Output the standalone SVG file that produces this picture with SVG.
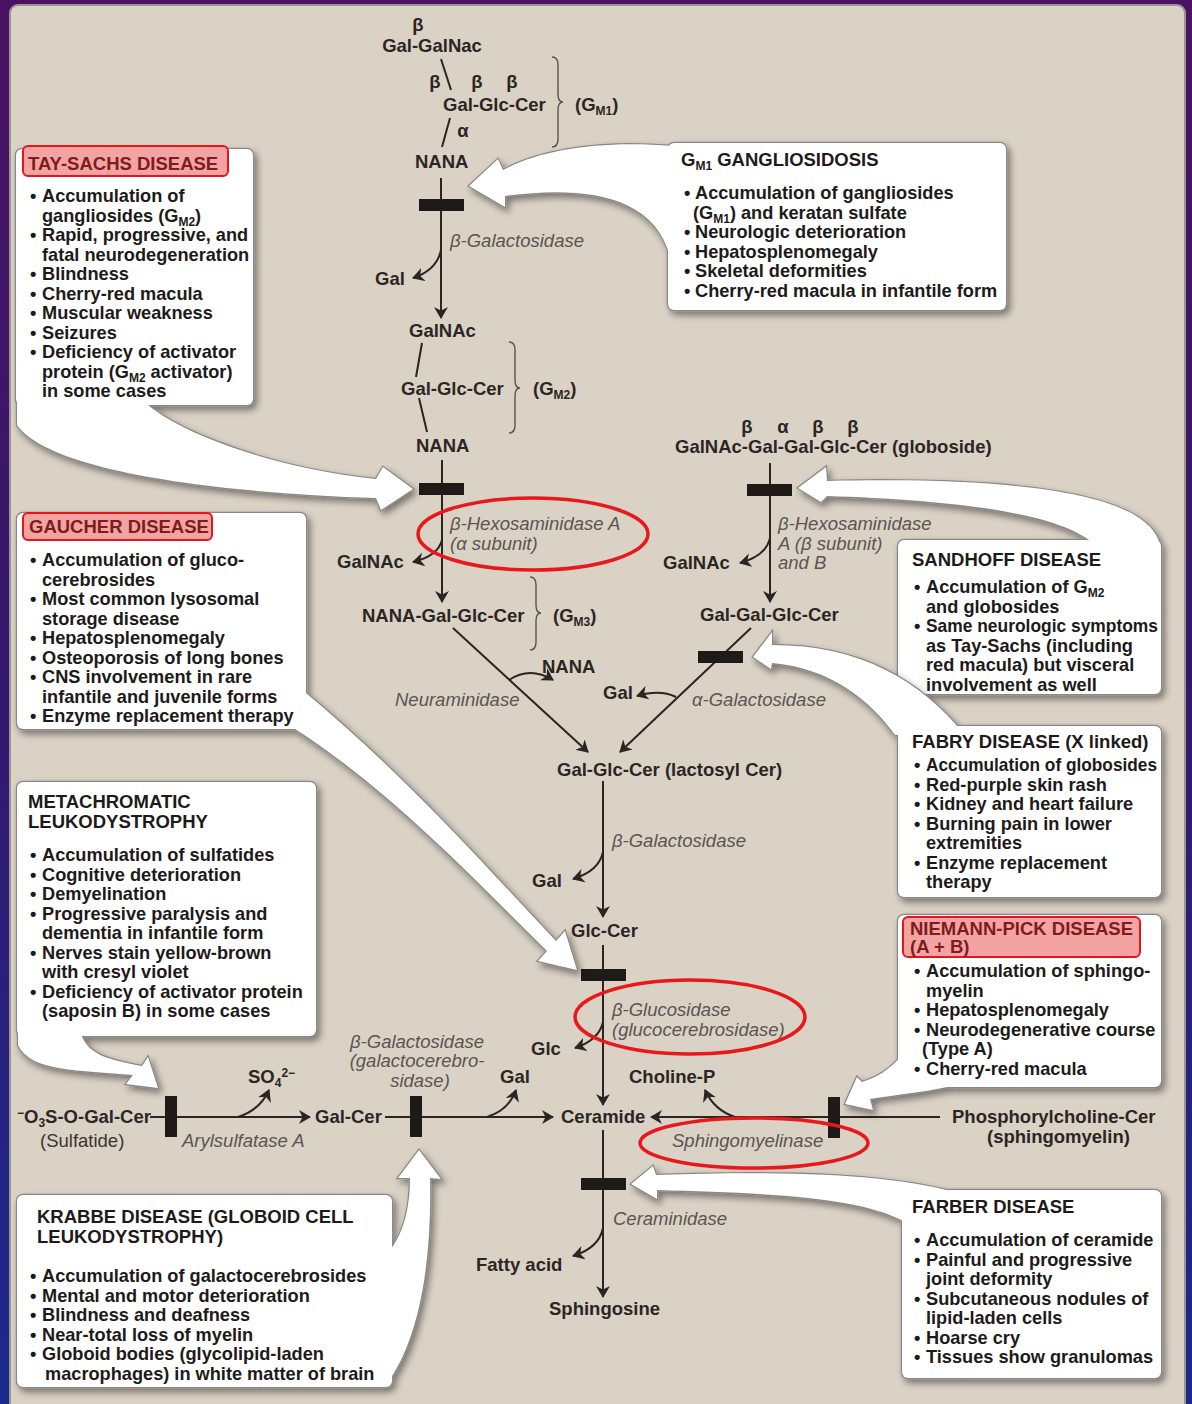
<svg xmlns="http://www.w3.org/2000/svg" xmlns:xlink="http://www.w3.org/1999/xlink" width="1192" height="1404" viewBox="0 0 1192 1404">
<defs>
<linearGradient id="bg" x1="0" y1="0" x2="0" y2="1">
<stop offset="0" stop-color="#4a1262"/>
<stop offset="0.5" stop-color="#33186e"/>
<stop offset="1" stop-color="#1b2a8e"/>
</linearGradient>
<filter id="sh" x="-10%" y="-10%" width="125%" height="125%">
<feDropShadow dx="3" dy="4" stdDeviation="3.5" flood-color="#000" flood-opacity="0.45"/>
</filter>
<marker id="ah" viewBox="0 0 12 14" refX="11" refY="7" markerWidth="12" markerHeight="14" markerUnits="userSpaceOnUse" orient="auto">
<path d="M0,0 L12,7 L0,14 L3.5,7 Z" fill="#2a2522"/>
</marker>
<style>
.lb{font-family:"Liberation Sans",Arial,sans-serif;font-size:18.5px;font-weight:bold;fill:#2b2623}
.rg{font-family:"Liberation Sans",Arial,sans-serif;font-size:18.5px;fill:#3a3431}
.en{font-family:"Liberation Sans",Arial,sans-serif;font-size:18.5px;font-style:italic;fill:#5b5451}
.bx{font-family:"Liberation Sans",Arial,sans-serif;font-size:18.2px;font-weight:bold;fill:#1e1a19}
.ti{font-family:"Liberation Sans",Arial,sans-serif;font-size:18.5px;font-weight:bold;fill:#1e1a19}
.rt{font-family:"Liberation Sans",Arial,sans-serif;font-size:18.5px;font-weight:bold;fill:#7e1c1c}
.sb{font-size:12px}
.out{fill:#fff;stroke:#8a8885;stroke-width:2.5}
.fil{fill:#fff;stroke:none}
.tbox{fill:#f4a3a3;stroke:#e8141c;stroke-width:2}
.ln{fill:none;stroke:#2a2522;stroke-width:2}
.blk{fill:#1e1a18}
.br{fill:none;stroke:#5a5350;stroke-width:1.4}
.red{fill:none;stroke:#e8191c;stroke-width:3.5}
</style>
<rect id="ts-box" x="16" y="149" width="237" height="256" rx="6"/>
<path id="ts-arr" d="M 17,395 L 140,395 C 150,418 250,466 376,479 L 383,467 L 413,489 L 381,510 L 376,498 C 220,493 50,472 17,425 Z"/>
<rect id="gm1-box" x="668" y="143" width="338" height="167" rx="6"/>
<path id="gm1-arr" d="M 672,146 C 600,140 540,150 503,170 L 498,159 L 469,186 L 505,207 L 505,196 C 580,186 660,192 672,266 Z"/>
<rect id="gau-box" x="17" y="513" width="289" height="216" rx="6"/>
<path id="gau-arr" d="M 300,688 C 400,770 480,860 556,941 L 565,931 L 577,970 L 538,961 L 547,951 C 470,875 390,790 295,729 Z"/>
<rect id="san-box" x="898" y="540" width="263" height="154" rx="6"/>
<path id="san-arr" d="M 827,481 L 826,467 L 798,488 L 821,502 L 827,496 C 950,500 1060,512 1095,545 L 1160,545 C 1150,500 1050,476 827,481 Z"/>
<rect id="fab-box" x="898" y="726" width="263" height="171" rx="6"/>
<path id="fab-arr" d="M 772,645 L 772,632 L 753,657 L 771,669 L 772,663 C 830,668 870,700 895,735 L 965,735 C 920,680 860,645 772,645 Z"/>
<rect id="met-box" x="17" y="782" width="299" height="254" rx="6"/>
<path id="met-arr" d="M 18,1030 L 80,1030 C 85,1055 110,1060 142,1066 L 148,1057 L 158,1088 L 126,1084 L 133,1075 C 80,1070 30,1072 18,1045 Z"/>
<rect id="np-box" x="898" y="915" width="263" height="172" rx="6"/>
<path id="np-arr" d="M 902,1055 C 890,1070 875,1078 862,1082 L 857,1077 L 845,1104 L 873,1110 L 870,1099 C 900,1094 930,1092 965,1083 Z"/>
<rect id="kr-box" x="17" y="1195" width="375" height="192" rx="6"/>
<path id="kr-arr" d="M 386,1385 C 420,1340 432,1260 430,1178 L 441,1179 L 419,1150 L 398,1178 L 410,1178 C 410,1215 400,1240 386,1255 Z"/>
<rect id="far-box" x="902" y="1190" width="259" height="188" rx="6"/>
<path id="far-arr" d="M 656,1175 L 653,1166 L 631,1184 L 657,1199 L 657,1190 C 760,1193 860,1196 905,1222 L 965,1195 C 900,1175 800,1170 656,1175 Z"/>
</defs>

<rect x="0" y="0" width="1192" height="1404" fill="url(#bg)"/>
<rect x="10" y="5" width="1175" height="1420" rx="8" fill="#dbd2c6" stroke="#9a958f" stroke-width="2"/>

<g id="connectors">
<line class="ln" x1="441" y1="178" x2="441" y2="318" marker-end="url(#ah)"/>
<path class="ln" d="M 441,250 Q 437,270 413,278" marker-end="url(#ah)"/>
<line class="ln" x1="442" y1="460" x2="442" y2="602" marker-end="url(#ah)"/>
<path class="ln" d="M 442,540 Q 438,556 413,562" marker-end="url(#ah)"/>
<line class="ln" x1="453" y1="628" x2="588" y2="752" marker-end="url(#ah)"/>
<path class="ln" d="M 509,680 Q 530,666 553,680" marker-end="url(#ah)"/>
<line class="ln" x1="770" y1="463" x2="770" y2="602" marker-end="url(#ah)"/>
<path class="ln" d="M 770,538 Q 766,556 740,563" marker-end="url(#ah)"/>
<line class="ln" x1="751" y1="628" x2="620" y2="752" marker-end="url(#ah)"/>
<path class="ln" d="M 676,697 Q 660,689 637,696" marker-end="url(#ah)"/>
<line class="ln" x1="603" y1="781" x2="603" y2="917" marker-end="url(#ah)"/>
<path class="ln" d="M 603,852 Q 599,871 573,879" marker-end="url(#ah)"/>
<line class="ln" x1="603" y1="945" x2="603" y2="1105" marker-end="url(#ah)"/>
<path class="ln" d="M 603,1022 Q 599,1040 575,1048" marker-end="url(#ah)"/>
<line class="ln" x1="150" y1="1117" x2="310" y2="1117" marker-end="url(#ah)"/>
<path class="ln" d="M 238,1117 Q 260,1110 269,1090" marker-end="url(#ah)"/>
<line class="ln" x1="385" y1="1117" x2="553" y2="1117" marker-end="url(#ah)"/>
<path class="ln" d="M 487,1117 Q 509,1110 516,1090" marker-end="url(#ah)"/>
<line class="ln" x1="940" y1="1117" x2="651" y2="1117" marker-end="url(#ah)"/>
<path class="ln" d="M 735,1117 Q 714,1110 705,1090" marker-end="url(#ah)"/>
<line class="ln" x1="603" y1="1130" x2="603" y2="1297" marker-end="url(#ah)"/>
<path class="ln" d="M 603,1228 Q 599,1248 573,1256" marker-end="url(#ah)"/>
<line class="ln" x1="441" y1="59" x2="451" y2="90"/>
<line class="ln" x1="450" y1="118" x2="442" y2="147"/>
<line class="ln" x1="422" y1="343" x2="416" y2="377"/>
<line class="ln" x1="419" y1="398" x2="427" y2="432"/>
<path class="br" d="M 552,57 Q 558,57 558,65 L 558,94 Q 558,102 563,102 Q 558,102 558,110 L 558,139 Q 558,147 552,147"/>
<path class="br" d="M 509,342 Q 515,342 515,350 L 515,380 Q 515,388 520,388 Q 515,388 515,396 L 515,425 Q 515,433 509,433"/>
<path class="br" d="M 530,577 Q 536,577 536,585 L 536,605 Q 536,613 541,613 Q 536,613 536,621 L 536,642 Q 536,650 530,650"/>
<rect class="blk" x="419" y="199" width="45" height="12"/>
<rect class="blk" x="419" y="483" width="45" height="12"/>
<rect class="blk" x="747" y="484" width="45" height="12"/>
<rect class="blk" x="698" y="651" width="45" height="12"/>
<rect class="blk" x="581" y="969" width="45" height="12"/>
<rect class="blk" x="581" y="1178" width="45" height="12"/>
<rect class="blk" x="165" y="1096" width="12" height="41"/>
<rect class="blk" x="410" y="1096" width="12" height="41"/>
<rect class="blk" x="828" y="1097" width="12" height="41"/>
</g>

<g id="labels">
<text class="lb" x="418" y="31" text-anchor="middle">β</text>
<text class="lb" x="432" y="52" text-anchor="middle">Gal-GalNac</text>
<text class="lb" x="435" y="88" text-anchor="middle">β</text>
<text class="lb" x="477" y="88" text-anchor="middle">β</text>
<text class="lb" x="512" y="88" text-anchor="middle">β</text>
<text class="lb" x="443" y="111">Gal-Glc-Cer</text>
<text class="lb" x="575" y="111">(G<tspan class="sb" dy="4">M1</tspan><tspan dy="-4">)</tspan></text>
<text class="lb" x="463" y="137" text-anchor="middle">α</text>
<text class="lb" x="415" y="168">NANA</text>
<text class="en" x="450" y="247">β-Galactosidase</text>
<text class="lb" x="375" y="285">Gal</text>
<text class="lb" x="409" y="337">GalNAc</text>
<text class="lb" x="401" y="395">Gal-Glc-Cer</text>
<text class="lb" x="533" y="395">(G<tspan class="sb" dy="4">M2</tspan><tspan dy="-4">)</tspan></text>
<text class="lb" x="416" y="452">NANA</text>
<text class="en" x="450" y="530">β-Hexosaminidase A</text>
<text class="en" x="450" y="550">(α subunit)</text>
<text class="lb" x="337" y="568">GalNAc</text>
<text class="lb" x="362" y="622">NANA-Gal-Glc-Cer</text>
<text class="lb" x="553" y="622">(G<tspan class="sb" dy="4">M3</tspan><tspan dy="-4">)</tspan></text>
<text class="lb" x="542" y="673">NANA</text>
<text class="en" x="395" y="706">Neuraminidase</text>
<text class="lb" x="603" y="699">Gal</text>
<text class="en" x="692" y="706">α-Galactosidase</text>
<text class="lb" x="747" y="433" text-anchor="middle">β</text>
<text class="lb" x="783" y="433" text-anchor="middle">α</text>
<text class="lb" x="818" y="433" text-anchor="middle">β</text>
<text class="lb" x="853" y="433" text-anchor="middle">β</text>
<text class="lb" x="675" y="453">GalNAc-Gal-Gal-Glc-Cer (globoside)</text>
<text class="en" x="778" y="530">β-Hexosaminidase</text>
<text class="en" x="778" y="550">A (β subunit)</text>
<text class="en" x="778" y="569">and B</text>
<text class="lb" x="663" y="569">GalNAc</text>
<text class="lb" x="700" y="621">Gal-Gal-Glc-Cer</text>
<text class="lb" x="557" y="776">Gal-Glc-Cer (lactosyl Cer)</text>
<text class="en" x="612" y="847">β-Galactosidase</text>
<text class="lb" x="532" y="887">Gal</text>
<text class="lb" x="571" y="937">Glc-Cer</text>
<text class="en" x="612" y="1016">β-Glucosidase</text>
<text class="en" x="612" y="1036">(glucocerebrosidase)</text>
<text class="lb" x="531" y="1055">Glc</text>
<text class="en" x="417" y="1048" text-anchor="middle">β-Galactosidase</text>
<text class="en" x="417" y="1067" text-anchor="middle">(galactocerebro-</text>
<text class="en" x="420" y="1087" text-anchor="middle">sidase)</text>
<text class="lb" x="248" y="1083">SO<tspan class="sb" dy="4">4</tspan><tspan class="sb" dy="-10">2−</tspan></text>
<text class="lb" x="500" y="1083">Gal</text>
<text class="lb" x="629" y="1083">Choline-P</text>
<text class="lb" x="17" y="1123"><tspan class="sb" dy="-6">−</tspan><tspan dy="6">O</tspan><tspan class="sb" dy="4">3</tspan><tspan dy="-4">S-O-Gal-Cer</tspan></text>
<text class="rg" x="40" y="1147">(Sulfatide)</text>
<text class="en" x="182" y="1147">Arylsulfatase A</text>
<text class="lb" x="315" y="1123">Gal-Cer</text>
<text class="lb" x="561" y="1123">Ceramide</text>
<text class="lb" x="952" y="1123">Phosphorylcholine-Cer</text>
<text class="lb" x="987" y="1143">(sphingomyelin)</text>
<text class="en" x="672" y="1147">Sphingomyelinase</text>
<text class="en" x="613" y="1225">Ceraminidase</text>
<text class="lb" x="476" y="1271">Fatty acid</text>
<text class="lb" x="549" y="1315">Sphingosine</text>
<ellipse class="red" cx="533" cy="534" rx="115" ry="36"/>
<ellipse class="red" cx="690" cy="1017" rx="115" ry="37"/>
<ellipse class="red" cx="754" cy="1143" rx="114" ry="25"/>
</g>

<g id="tay-sachs">
<g class="out" filter="url(#sh)"><use href="#ts-arr"/><use href="#ts-box"/></g>
<g class="fil"><use href="#ts-arr"/><use href="#ts-box"/></g>
<rect class="tbox" x="23" y="146" width="205" height="30" rx="5"/>
<text class="rt" x="28" y="170">TAY-SACHS DISEASE</text>
<text class="bx" x="30" y="202">•<tspan x="42">Accumulation of</tspan></text>
<text class="bx" x="42" y="221.5">gangliosides (G<tspan class="sb" dy="4">M2</tspan><tspan dy="-4">)</tspan></text>
<text class="bx" x="30" y="241">•<tspan x="42">Rapid, progressive, and</tspan></text>
<text class="bx" x="42" y="260.5">fatal neurodegeneration</text>
<text class="bx" x="30" y="280">•<tspan x="42">Blindness</tspan></text>
<text class="bx" x="30" y="299.5">•<tspan x="42">Cherry-red macula</tspan></text>
<text class="bx" x="30" y="319">•<tspan x="42">Muscular weakness</tspan></text>
<text class="bx" x="30" y="338.5">•<tspan x="42">Seizures</tspan></text>
<text class="bx" x="30" y="358">•<tspan x="42">Deficiency of activator</tspan></text>
<text class="bx" x="42" y="377.5">protein (G<tspan class="sb" dy="4">M2</tspan><tspan dy="-4"> activator)</tspan></text>
<text class="bx" x="42" y="397">in some cases</text>
</g>

<g id="gm1-gangliosidosis">
<g class="out" filter="url(#sh)"><use href="#gm1-arr"/><use href="#gm1-box"/></g>
<g class="fil"><use href="#gm1-arr"/><use href="#gm1-box"/></g>
<text class="ti" x="681" y="166">G<tspan class="sb" dy="4">M1</tspan><tspan dy="-4"> GANGLIOSIDOSIS</tspan></text>
<text class="bx" x="684" y="199">•<tspan x="695">Accumulation of gangliosides</tspan></text>
<text class="bx" x="693" y="218.5">(G<tspan class="sb" dy="4">M1</tspan><tspan dy="-4">) and keratan sulfate</tspan></text>
<text class="bx" x="684" y="238">•<tspan x="695">Neurologic deterioration</tspan></text>
<text class="bx" x="684" y="257.5">•<tspan x="695">Hepatosplenomegaly</tspan></text>
<text class="bx" x="684" y="277">•<tspan x="695">Skeletal deformities</tspan></text>
<text class="bx" x="684" y="296.5">•<tspan x="695">Cherry-red macula in infantile form</tspan></text>
</g>

<g id="gaucher">
<g class="out" filter="url(#sh)"><use href="#gau-arr"/><use href="#gau-box"/></g>
<g class="fil"><use href="#gau-arr"/><use href="#gau-box"/></g>
<rect class="tbox" x="23" y="513" width="189" height="27" rx="5"/>
<text class="rt" x="29" y="533">GAUCHER DISEASE</text>
<text class="bx" x="30" y="566">•<tspan x="42">Accumulation of gluco-</tspan></text>
<text class="bx" x="42" y="585.5">cerebrosides</text>
<text class="bx" x="30" y="605">•<tspan x="42">Most common lysosomal</tspan></text>
<text class="bx" x="42" y="624.5">storage disease</text>
<text class="bx" x="30" y="644">•<tspan x="42">Hepatosplenomegaly</tspan></text>
<text class="bx" x="30" y="663.5">•<tspan x="42">Osteoporosis of long bones</tspan></text>
<text class="bx" x="30" y="683">•<tspan x="42">CNS involvement in rare</tspan></text>
<text class="bx" x="42" y="702.5">infantile and juvenile forms</text>
<text class="bx" x="30" y="722">•<tspan x="42">Enzyme replacement therapy</tspan></text>
</g>

<g id="sandhoff">
<g class="out" filter="url(#sh)"><use href="#san-arr"/><use href="#san-box"/></g>
<g class="fil"><use href="#san-arr"/><use href="#san-box"/></g>
<text class="ti" x="912" y="566">SANDHOFF DISEASE</text>
<text class="bx" x="914" y="593">•<tspan x="926">Accumulation of G</tspan><tspan class="sb" dy="4">M2</tspan></text>
<text class="bx" x="926" y="612.5">and globosides</text>
<text class="bx" x="914" y="632">•<tspan x="926" textLength="232" lengthAdjust="spacingAndGlyphs">Same neurologic symptoms</tspan></text>
<text class="bx" x="926" y="651.5">as Tay-Sachs (including</text>
<text class="bx" x="926" y="671">red macula) but visceral</text>
<text class="bx" x="926" y="690.5">involvement as well</text>
</g>

<g id="fabry">
<g class="out" filter="url(#sh)"><use href="#fab-arr"/><use href="#fab-box"/></g>
<g class="fil"><use href="#fab-arr"/><use href="#fab-box"/></g>
<text class="ti" x="912" y="748">FABRY DISEASE (X linked)</text>
<text class="bx" x="914" y="771">•<tspan x="926" textLength="231" lengthAdjust="spacingAndGlyphs">Accumulation of globosides</tspan></text>
<text class="bx" x="914" y="790.5">•<tspan x="926">Red-purple skin rash</tspan></text>
<text class="bx" x="914" y="810">•<tspan x="926">Kidney and heart failure</tspan></text>
<text class="bx" x="914" y="829.5">•<tspan x="926">Burning pain in lower</tspan></text>
<text class="bx" x="926" y="849">extremities</text>
<text class="bx" x="914" y="868.5">•<tspan x="926">Enzyme replacement</tspan></text>
<text class="bx" x="926" y="888">therapy</text>
</g>

<g id="metachromatic-leukodystrophy">
<g class="out" filter="url(#sh)"><use href="#met-arr"/><use href="#met-box"/></g>
<g class="fil"><use href="#met-arr"/><use href="#met-box"/></g>
<text class="ti" x="28" y="808">METACHROMATIC</text>
<text class="ti" x="28" y="828">LEUKODYSTROPHY</text>
<text class="bx" x="30" y="861">•<tspan x="42">Accumulation of sulfatides</tspan></text>
<text class="bx" x="30" y="880.5">•<tspan x="42">Cognitive deterioration</tspan></text>
<text class="bx" x="30" y="900">•<tspan x="42">Demyelination</tspan></text>
<text class="bx" x="30" y="919.5">•<tspan x="42">Progressive paralysis and</tspan></text>
<text class="bx" x="42" y="939">dementia in infantile form</text>
<text class="bx" x="30" y="958.5">•<tspan x="42">Nerves stain yellow-brown</tspan></text>
<text class="bx" x="42" y="978">with cresyl violet</text>
<text class="bx" x="30" y="997.5">•<tspan x="42">Deficiency of activator protein</tspan></text>
<text class="bx" x="42" y="1017">(saposin B) in some cases</text>
</g>

<g id="niemann-pick">
<g class="out" filter="url(#sh)"><use href="#np-arr"/><use href="#np-box"/></g>
<g class="fil"><use href="#np-arr"/><use href="#np-box"/></g>
<rect class="tbox" x="903" y="917" width="237" height="40" rx="5"/>
<text class="rt" x="910" y="935">NIEMANN-PICK DISEASE</text>
<text class="rt" x="910" y="953">(A + B)</text>
<text class="bx" x="914" y="977">•<tspan x="926">Accumulation of sphingo-</tspan></text>
<text class="bx" x="926" y="996.5">myelin</text>
<text class="bx" x="914" y="1016">•<tspan x="926">Hepatosplenomegaly</tspan></text>
<text class="bx" x="914" y="1035.5">•<tspan x="926">Neurodegenerative course</tspan></text>
<text class="bx" x="922" y="1055">(Type A)</text>
<text class="bx" x="914" y="1074.5">•<tspan x="926">Cherry-red macula</tspan></text>
</g>

<g id="krabbe">
<g class="out" filter="url(#sh)"><use href="#kr-arr"/><use href="#kr-box"/></g>
<g class="fil"><use href="#kr-arr"/><use href="#kr-box"/></g>
<text class="ti" x="37" y="1223">KRABBE DISEASE (GLOBOID CELL</text>
<text class="ti" x="37" y="1243">LEUKODYSTROPHY)</text>
<text class="bx" x="30" y="1282">•<tspan x="42">Accumulation of galactocerebrosides</tspan></text>
<text class="bx" x="30" y="1301.5">•<tspan x="42">Mental and motor deterioration</tspan></text>
<text class="bx" x="30" y="1321">•<tspan x="42">Blindness and deafness</tspan></text>
<text class="bx" x="30" y="1340.5">•<tspan x="42">Near-total loss of myelin</tspan></text>
<text class="bx" x="30" y="1360">•<tspan x="42">Globoid bodies (glycolipid-laden</tspan></text>
<text class="bx" x="45" y="1379.5">macrophages) in white matter of brain</text>
</g>

<g id="farber">
<g class="out" filter="url(#sh)"><use href="#far-arr"/><use href="#far-box"/></g>
<g class="fil"><use href="#far-arr"/><use href="#far-box"/></g>
<text class="ti" x="912" y="1213">FARBER DISEASE</text>
<text class="bx" x="914" y="1246">•<tspan x="926">Accumulation of ceramide</tspan></text>
<text class="bx" x="914" y="1265.5">•<tspan x="926">Painful and progressive</tspan></text>
<text class="bx" x="926" y="1285">joint deformity</text>
<text class="bx" x="914" y="1304.5">•<tspan x="926">Subcutaneous nodules of</tspan></text>
<text class="bx" x="926" y="1324">lipid-laden cells</text>
<text class="bx" x="914" y="1343.5">•<tspan x="926">Hoarse cry</tspan></text>
<text class="bx" x="914" y="1363">•<tspan x="926">Tissues show granulomas</tspan></text>
</g>
</svg>
